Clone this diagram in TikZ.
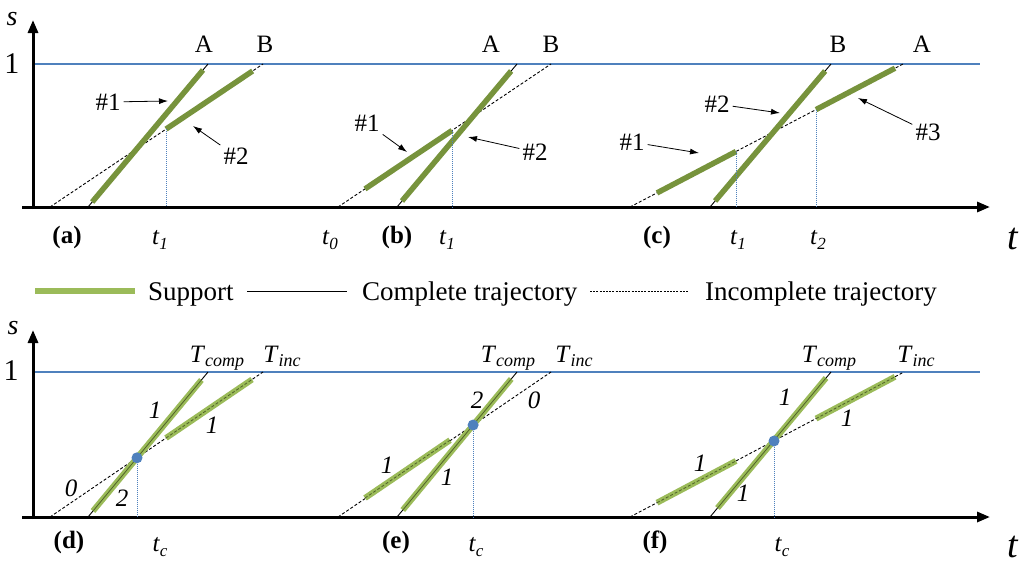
\documentclass[tikz,border=0pt]{standalone}
\usepackage{fontspec}
\setmainfont{LiberationSerif}[Extension=.ttf,UprightFont=*-Regular,BoldFont=*-Bold,ItalicFont=*-Italic,BoldItalicFont=*-BoldItalic]
\usetikzlibrary{arrows.meta}
\definecolor{supdark}{HTML}{77933C}
\definecolor{suplight}{HTML}{9BBB59}
\definecolor{supline}{HTML}{4F6228}
\definecolor{bl}{HTML}{4F81BD}
\newcommand\fs[1]{\fontsize{#1}{#1}\selectfont}
\newcommand\tsub[2]{\textit{#1}\raisebox{-5pt}{\fs{17}\textit{#2}}}
\newcommand\Tsub[2]{\textit{#1}\raisebox{-4pt}{\fs{18}\textit{#2}}}
\begin{document}
\begin{tikzpicture}[x=1pt,y=-1pt,
  axis/.style={line width=3pt,-{Triangle[length=13pt,width=10pt]}},
  lim/.style={bl,line width=1.2pt},
  comp/.style={black,line width=0.9pt},
  inc/.style={black,line width=0.9pt,dash pattern=on 3pt off 2pt},
  supA/.style={supdark,line width=5.5pt},
  supB/.style={suplight,line width=6pt},
  supc/.style={supline,line width=0.8pt},
  supi/.style={supline,line width=0.8pt,dash pattern=on 3pt off 2pt},
  guide/.style={bl,line width=1pt,dash pattern=on 1pt off 1pt},
  ptr/.style={-{Latex[length=9pt,width=6pt]},line width=0.8pt},
  lab/.style={font=\fs{25},inner sep=0pt},
  hlab/.style={font=\fs{25},inner sep=3pt},
  plab/.style={font=\fs{25}\bfseries,inner sep=0pt},
  tlab/.style={font=\fs{25},inner sep=0pt,anchor=base},
  nlab/.style={font=\fs{25}\itshape,inner sep=0pt},
  dot/.style={circle,fill=bl,inner sep=0pt,minimum size=11pt}
]
\useasboundingbox (0,0) rectangle (1024,571);

% ================= TOP ROW =================
\draw[lim] (33,64) -- (980,64);
\draw[axis] (22,207) -- (990,207);
\draw[axis] (33,209) -- (33,20);
\node[font=\fs{28}\itshape,inner sep=0pt] (s1) at (12,19) {s};
\node[font=\fs{30},inner sep=0pt] (one1) at (12,64) {1};
\node[font=\fs{38}\itshape,inner sep=0pt,anchor=base] (tt1) at (1013,249) {t};

% (a)
\coordinate (aA0) at (88,207); \coordinate (aA1) at (208,64);
\coordinate (aB0) at (50,207); \coordinate (aB1) at (263,64);
\draw[comp] (aA0) -- (aA1);
\draw[inc] (aB0) -- (aB1);
\draw[supA] (92.2,202) -- (203,70);
\draw[supA] (166,129.1) -- (252.6,71);
\draw[guide] (166,129.1) -- (166,207);
\node[lab] (aAl) at (204,44) {A};
\node[lab] (aBl) at (265,44) {B};
\node[hlab] (a1) at (108,102) {\#1};
\node[hlab] (a2) at (236,156) {\#2};
\coordinate (a1t) at (168,101);
\coordinate (a2t) at (193,126);
\draw[ptr] (a1) -- (a1t);
\draw[ptr] (a2) -- (a2t);
\node[plab] (pa) at (67,237) {(a)};
\node[tlab] (at1) at (160,244) {\tsub{t}{1}};
\node[tlab] (at0) at (330,244) {\tsub{t}{0}};

% (b)
\coordinate (bA0) at (397,207); \coordinate (bA1) at (517,64);
\coordinate (bB0) at (338,207); \coordinate (bB1) at (551,64);
\draw[comp] (bA0) -- (bA1);
\draw[inc] (bB0) -- (bB1);
\draw[supA] (402,201) -- (511.1,71);
\draw[supA] (365,188.9) -- (452,130.5);
\draw[guide] (452,130.5) -- (452,207);
\node[lab] (bAl) at (491,44) {A};
\node[lab] (bBl) at (551,44) {B};
\node[hlab] (b1) at (367,123) {\#1};
\node[hlab] (b2) at (535,152) {\#2};
\coordinate (b1t) at (407,152);
\coordinate (b2t) at (468,137);
\draw[ptr] (b1) -- (b1t);
\draw[ptr] (b2) -- (b2t);
\node[plab] (pb) at (397,237) {(b)};
\node[tlab] (bt1) at (447,244) {\tsub{t}{1}};

% (c)
\coordinate (cA0) at (710,207); \coordinate (cA1) at (831,64);
\coordinate (cB0) at (630,207); \coordinate (cB1) at (903,64);
\draw[comp] (cA0) -- (cA1);
\draw[inc] (cB0) -- (cB1);
\draw[supA] (715.1,201) -- (825.1,71);
\draw[supA] (657,192.9) -- (736,151.5);
\draw[supA] (816,109.6) -- (895,68.2);
\draw[guide] (736,151.5) -- (736,207);
\draw[guide] (816,109.6) -- (816,207);
\node[lab] (cBl) at (838,44) {B};
\node[lab] (cAl) at (922,44) {A};
\node[hlab] (c2) at (717,104) {\#2};
\node[hlab] (c1) at (632,142) {\#1};
\node[hlab] (c3) at (928,132) {\#3};
\coordinate (c2t) at (780,113);
\coordinate (c1t) at (699,153);
\coordinate (c3t) at (858,98);
\draw[ptr] (c2) -- (c2t);
\draw[ptr] (c1) -- (c1t);
\draw[ptr] (c3) -- (c3t);
\node[plab] (pc) at (657,237) {(c)};
\node[tlab] (ct1) at (738,244) {\tsub{t}{1}};
\node[tlab] (ct2) at (818,244) {\tsub{t}{2}};

% ================= LEGEND =================
\coordinate (lg0) at (35,291); \coordinate (lg1) at (135,291);
\draw[suplight,line width=5.5pt] (lg0) -- (lg1);
\node[font=\fs{27},inner sep=0pt,anchor=base west] (lsup) at (148,300) {Support};
\coordinate (lc0) at (247,291); \coordinate (lc1) at (347,291);
\draw[black,line width=1pt] (lc0) -- (lc1);
\node[font=\fs{27},inner sep=0pt,anchor=base west] (lcomp) at (362,300) {Complete trajectory};
\coordinate (li0) at (590,291); \coordinate (li1) at (688,291);
\draw[black,line width=0.9pt,dash pattern=on 2pt off 1.2pt] (li0) -- (li1);
\node[font=\fs{27},inner sep=0pt,anchor=base west] (linc) at (705,300) {Incomplete trajectory};

% ================= BOTTOM ROW =================
\draw[lim] (33,372) -- (980,372);
\draw[axis] (22,517) -- (990,517);
\draw[axis] (33,519) -- (33,330);
\node[font=\fs{28}\itshape,inner sep=0pt] (s2) at (13,328) {s};
\node[font=\fs{30},inner sep=0pt] (one2) at (11,371) {1};
\node[font=\fs{38}\itshape,inner sep=0pt,anchor=base] (tt2) at (1013,557) {t};

% (d)
\coordinate (dA0) at (88,517); \coordinate (dA1) at (208,372);
\coordinate (dB0) at (50,517); \coordinate (dB1) at (263,372);
\draw[comp] (dA0) -- (dA1);
\draw[inc] (dB0) -- (dB1);
\draw[supB] (93,511) -- (201.4,380);
\draw[supB] (166,438) -- (252,379.5);
\draw[supc] (93,511) -- (201.4,380);
\draw[supi] (166,438) -- (252,379.5);
\node[dot] (dc) at (137,457.8) {};
\coordinate (dcb) at (137,517);
\draw[guide] (dc) -- (dcb);
\node[tlab] (dTc) at (217,362) {\Tsub{T}{comp}};
\node[tlab] (dTi) at (282,362) {\Tsub{T}{inc}};
\node[nlab] (dn1) at (155,410) {1};
\node[nlab] (dn2) at (212,425) {1};
\node[nlab] (dn3) at (71,488) {0};
\node[nlab] (dn4) at (122,498) {2};
\node[plab] (pd) at (69,542) {(d)};
\node[tlab] (dtc) at (160,551) {\tsub{t}{c}};

% (e)
\coordinate (eA0) at (397,517); \coordinate (eA1) at (517,372);
\coordinate (eB0) at (338,517); \coordinate (eB1) at (551,372);
\draw[comp] (eA0) -- (eA1);
\draw[inc] (eB0) -- (eB1);
\draw[supB] (402.8,510) -- (511.2,379);
\draw[supB] (365,498) -- (450,440.2);
\draw[supc] (402.8,510) -- (511.2,379);
\draw[supi] (365,498) -- (450,440.2);
\node[dot] (ec) at (473.1,425) {};
\coordinate (ecb) at (473.1,517);
\draw[guide] (ec) -- (ecb);
\node[tlab] (eTc) at (508,362) {\Tsub{T}{comp}};
\node[tlab] (eTi) at (574,362) {\Tsub{T}{inc}};
\node[nlab] (en1) at (477,400) {2};
\node[nlab] (en2) at (534,400) {0};
\node[nlab] (en3) at (387,465) {1};
\node[nlab] (en4) at (447,477) {1};
\node[plab] (pe) at (396,542) {(e)};
\node[tlab] (etc) at (476,551) {\tsub{t}{c}};

% (f)
\coordinate (fA0) at (710,517); \coordinate (fA1) at (831,372);
\coordinate (fB0) at (630,517); \coordinate (fB1) at (904,372);
\draw[comp] (fA0) -- (fA1);
\draw[inc] (fB0) -- (fB1);
\draw[supB] (717.5,508) -- (826,378);
\draw[supB] (657,502.7) -- (736,460.9);
\draw[supB] (816,418.6) -- (895,376.8);
\draw[supc] (717.5,508) -- (826,378);
\draw[supi] (657,502.7) -- (736,460.9);
\draw[supi] (816,418.6) -- (895,376.8);
\node[dot] (fc) at (774,441) {};
\coordinate (fcb) at (774,517);
\draw[guide] (fc) -- (fcb);
\node[tlab] (fTc) at (829,362) {\Tsub{T}{comp}};
\node[tlab] (fTi) at (916,362) {\Tsub{T}{inc}};
\node[nlab] (fn1) at (785,397) {1};
\node[nlab] (fn2) at (847,418) {1};
\node[nlab] (fn3) at (700,463) {1};
\node[nlab] (fn4) at (743,493) {1};
\node[plab] (pf) at (655,542) {(f)};
\node[tlab] (ftc) at (782,551) {\tsub{t}{c}};
\end{tikzpicture}
\end{document}
